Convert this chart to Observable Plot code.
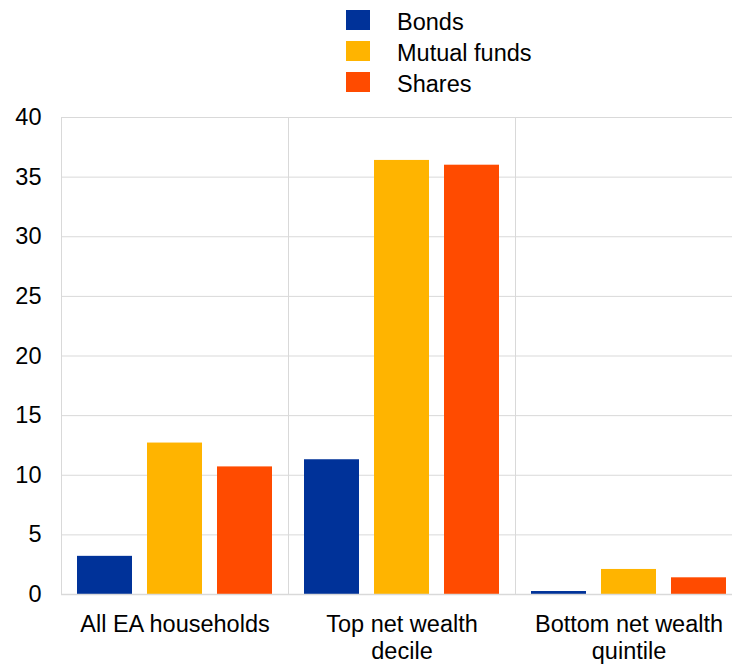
<!DOCTYPE html>
<html>
<head>
<meta charset="utf-8">
<script src="https://cdn.jsdelivr.net/npm/d3@7"></script>
<script src="https://cdn.jsdelivr.net/npm/@observablehq/plot@0.6"></script>
<style>
  html, body { margin: 0; padding: 0; background: #fff; overflow: hidden; }
  body { width: 732px; height: 664px; font-family: "Liberation Sans", Arial, sans-serif; }
  #legend { position: relative; height: 100px; width: 732px; }
  .item { position: absolute; left: 346px; height: 20px; display: flex; align-items: center; }
  .sw { width: 24px; height: 20px; }
  .lb { position: absolute; left: 51px; top: 2px; font-size: 23.5px; line-height: 20px; color: #000; white-space: nowrap; }
  #chart svg { display: block; }
</style>
</head>
<body>
<div id="legend"></div>
<div id="chart"></div>
<script>
const groups = ["All EA households", "Top net wealth decile", "Bottom net wealth quintile"];
const groupLabels = ["All EA households", "Top net wealth\ndecile", "Bottom net wealth\nquintile"];
const series = ["Bonds", "Mutual funds", "Shares"];
const colors = ["#003299", "#FFB400", "#FF4B00"];
const bonds = [3.2, 11.3, 0.25];
const mutualFunds = [12.7, 36.4, 2.1];
const shares = [10.7, 36.0, 1.4];
const yTicks = [0, 5, 10, 15, 20, 25, 30, 35, 40];

const valuesBySeries = [bonds, mutualFunds, shares];
const data = [];
groups.forEach((g, gi) => {
  series.forEach((s, si) => {
    data.push({group: g, series: s, value: valuesBySeries[si][gi]});
  });
});

// legend
const legend = document.getElementById("legend");
series.forEach((s, i) => {
  const item = document.createElement("div");
  item.className = "item";
  item.style.top = (10 + i * 31) + "px";
  const sw = document.createElement("div");
  sw.className = "sw";
  sw.style.background = colors[i];
  const lb = document.createElement("div");
  lb.className = "lb";
  lb.textContent = s;
  item.appendChild(sw);
  item.appendChild(lb);
  legend.appendChild(item);
});

const chart = Plot.plot({
  width: 732,
  height: 564,
  marginLeft: 61,
  marginRight: -10,
  marginTop: 17,
  marginBottom: 70,
  style: {fontFamily: "Liberation Sans, Arial, sans-serif", fontSize: "23.5px", color: "#000", background: "#fff"},
  fx: {domain: groups, padding: 0, label: null, axis: null},
  x: {domain: series, padding: 0.21, axis: null},
  y: {domain: [0, 40], label: null, axis: null},
  color: {domain: series, range: colors},
  marks: [
    Plot.ruleY(yTicks, {y: d => d, stroke: "#d9d9d9", strokeWidth: 1, strokeOpacity: 1}),
    Plot.frame({stroke: "#d9d9d9", strokeWidth: 1}),
    Plot.barY(data, {fx: "group", x: "series", y: "value", fill: "series"}),
    Plot.ruleY([0], {stroke: "#d9d9d9", strokeWidth: 1.5}),
    Plot.axisY(yTicks, {anchor: "left", tickSize: 0, tickPadding: 20, label: null, fontSize: 23.5}),
    Plot.axisFx({anchor: "bottom", tickSize: 0, tickPadding: 19, label: null, fontSize: 23.5, lineHeight: 1.13,
                 tickFormat: d => groupLabels[groups.indexOf(d)]})
  ]
});
document.getElementById("chart").appendChild(chart);
</script>
</body>
</html>
